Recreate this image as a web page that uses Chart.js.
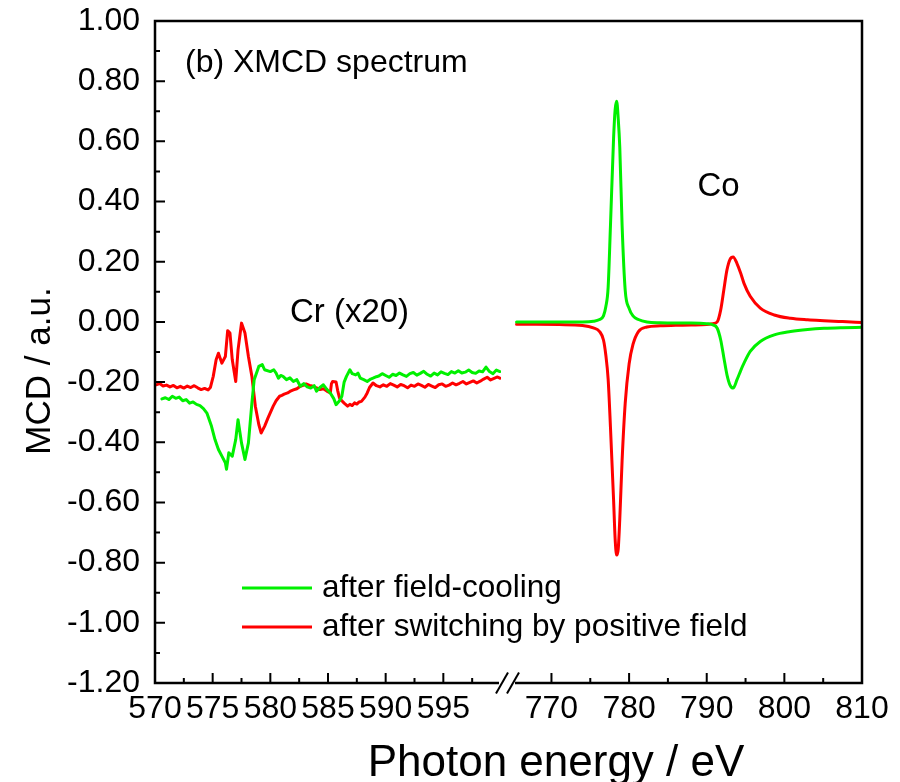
<!DOCTYPE html>
<html>
<head>
<meta charset="utf-8">
<title>XMCD spectrum</title>
<script src="https://cdn.jsdelivr.net/npm/chart.js@4.4.1/dist/chart.umd.min.js"></script>
<style>
  html, body { margin: 0; padding: 0; background: #fff; }
  #chart { display: block; }
</style>
</head>
<body>
<canvas id="chart" width="900" height="782"></canvas>
<script>
// Cr L edge (scaled x20), after field-cooling
const crEnergyFC = [
  570.6, 570.9, 571.2, 571.5, 571.8, 572.1, 572.4, 572.7, 573.0, 573.3, 573.6, 573.9, 574.2, 574.5,
  574.9, 575.2, 575.5, 575.8, 576.1, 576.2, 576.4, 576.7, 577.0, 577.2, 577.5, 577.8, 578.1, 578.4,
  578.6, 579.0, 579.3, 579.5, 580.0,
  580.3, 580.5, 580.7, 580.9, 581.1, 581.4, 581.7, 582.0, 582.3, 582.6, 582.9, 583.2, 583.5, 583.8,
  584.0, 584.3, 584.6, 584.9, 585.2, 585.5, 585.7, 586.0, 586.2, 586.4, 586.6, 586.9, 587.1, 587.4,
  587.6, 587.8, 588.1, 588.4, 588.7, 588.9, 589.2,
  589.4, 589.7, 590.0, 590.3, 590.6, 590.9, 591.2, 591.5, 591.8, 592.1, 592.4, 592.7, 593.0, 593.3,
  593.6, 593.9, 594.2, 594.5, 594.8, 595.1, 595.4, 595.7, 596.0, 596.3, 596.6, 596.9, 597.2, 597.5,
  597.8, 598.1, 598.4, 598.7, 599.0, 599.3, 599.6, 599.9];
const crMcdFC = [
  -0.256, -0.252, -0.258, -0.247, -0.254, -0.250, -0.262, -0.258, -0.270, -0.266, -0.274, -0.278, -0.288, -0.303,
  -0.347, -0.391, -0.424, -0.446, -0.468, -0.490, -0.435, -0.446, -0.391, -0.325, -0.402, -0.457, -0.402, -0.270,
  -0.192, -0.148, -0.142, -0.159, -0.165,
  -0.159, -0.170, -0.187, -0.178, -0.181, -0.192, -0.186, -0.198, -0.192, -0.214, -0.205, -0.216, -0.220, -0.212,
  -0.230, -0.218, -0.209, -0.224, -0.236, -0.255, -0.275, -0.262, -0.247, -0.200, -0.181, -0.159, -0.172, -0.176,
  -0.170, -0.187, -0.192, -0.198, -0.190, -0.187, -0.182,
  -0.180, -0.172, -0.178, -0.184, -0.174, -0.178, -0.170, -0.176, -0.181, -0.172, -0.168, -0.177, -0.171, -0.164,
  -0.174, -0.180, -0.170, -0.176, -0.166, -0.171, -0.175, -0.165, -0.170, -0.162, -0.170, -0.167, -0.160, -0.168,
  -0.171, -0.163, -0.166, -0.150, -0.165, -0.172, -0.160, -0.165];

// Cr L edge (scaled x20), after switching by positive field
const crEnergySW = [
  570.1, 570.4, 570.7, 571.0, 571.3, 571.6, 571.9, 572.2, 572.5, 572.8, 573.1, 573.4, 573.7, 574.0,
  574.3, 574.6, 574.8,
  575.05, 575.3, 575.5, 575.8, 576.1, 576.3, 576.5, 576.7, 577.0, 577.2, 577.5, 577.8, 578.1, 578.4,
  578.7, 579.0, 579.2, 579.5, 579.8,
  580.25, 580.5, 580.8, 581.0, 581.2, 581.5, 581.7, 582.0, 582.3, 582.6, 582.9, 583.1, 583.4, 583.7,
  584.0, 584.3, 584.6, 584.9, 585.2, 585.3, 585.4, 585.7, 585.85, 586.0, 586.2, 586.4, 586.7, 586.9,
  587.1, 587.3, 587.5, 587.7, 587.9, 588.2, 588.4, 588.6,
  588.9, 589.2, 589.5, 589.8, 590.1, 590.4, 590.7, 591.0, 591.3, 591.6, 591.9, 592.2, 592.5, 592.8,
  593.1, 593.4, 593.7, 594.0, 594.3, 594.6, 594.9, 595.2, 595.5, 595.8, 596.1, 596.4, 596.7, 597.0,
  597.3, 597.6, 597.9, 598.2, 598.5, 598.8, 599.1, 599.4, 599.7, 599.9];
const crMcdSW = [
  -0.209, -0.205, -0.213, -0.210, -0.216, -0.211, -0.219, -0.214, -0.220, -0.213, -0.218, -0.212, -0.219, -0.225,
  -0.221, -0.226, -0.218,
  -0.181, -0.126, -0.104, -0.137, -0.115, -0.029, -0.037, -0.126, -0.198, -0.093, -0.004, -0.037, -0.115, -0.181,
  -0.280, -0.341, -0.369, -0.347, -0.319,
  -0.280, -0.262, -0.247, -0.244, -0.240, -0.236, -0.231, -0.226, -0.222, -0.214, -0.210, -0.206, -0.211, -0.214,
  -0.219, -0.225, -0.222, -0.230, -0.236, -0.205, -0.198, -0.200, -0.230, -0.253, -0.262, -0.270, -0.280, -0.274,
  -0.278, -0.269, -0.273, -0.266, -0.264, -0.250, -0.236, -0.218,
  -0.203, -0.212, -0.216, -0.209, -0.214, -0.205, -0.210, -0.216, -0.208, -0.212, -0.219, -0.210, -0.214, -0.206,
  -0.211, -0.217, -0.208, -0.213, -0.218, -0.209, -0.206, -0.214, -0.210, -0.203, -0.209, -0.204, -0.198, -0.206,
  -0.201, -0.196, -0.203, -0.197, -0.190, -0.184, -0.193, -0.188, -0.183, -0.187];

// Co L edge, both measurements on the same energy points
const coEnergy = [765.5, 768, 771, 774, 775.4, 776.2, 776.7, 777.0, 777.3, 777.6, 778.0, 778.2, 778.4, 778.6, 778.8,
  779.1, 779.5, 780.0, 780.5, 781.2, 782.3, 784, 786, 788, 790, 790.8, 791.35, 791.8, 792.2, 792.6,
  793.0, 793.4, 793.9, 794.4, 794.8, 795.6, 796.9, 798.7, 800.8, 803, 805.1, 807.5, 810];
const coMcdFC = [0.000, 0.000, 0.000, 0.000, 0.002, 0.008, 0.020, 0.050, 0.115, 0.320, 0.610, 0.705, 0.733, 0.675, 0.580,
  0.320, 0.105, 0.045, 0.020, 0.008, 0.000, -0.003, -0.004, -0.004, -0.006, -0.010, -0.021, -0.060, -0.118, -0.175,
  -0.210, -0.220, -0.192, -0.160, -0.137, -0.098, -0.065, -0.043, -0.032, -0.025, -0.021, -0.019, -0.018];
const coMcdSW = [-0.008, -0.008, -0.009, -0.012, -0.020, -0.032, -0.060, -0.110, -0.190, -0.350, -0.590, -0.720, -0.775, -0.755, -0.655,
  -0.460, -0.270, -0.140, -0.075, -0.032, -0.017, -0.013, -0.011, -0.010, -0.009, -0.006, 0.000, 0.040, 0.106, 0.172,
  0.208, 0.216, 0.194, 0.160, 0.128, 0.085, 0.046, 0.023, 0.012, 0.007, 0.004, 0.001, -0.002];

// tick labels
const crTickLabels = [570, 575, 580, 585, 590, 595];
const coTickLabels = [770, 780, 790, 800, 810];
const mcdTickLabels = [-1.2, -1.0, -0.8, -0.6, -0.4, -0.2, 0, 0.2, 0.4, 0.6, 0.8, 1.0];

const green = 'rgb(0,240,0)';
const red = 'rgb(255,0,0)';
const fontFamily = '"Liberation Sans", Arial, Helvetica, sans-serif';

function points(xs, ys) {
  return xs.map((x, i) => ({ x: x, y: ys[i] }));
}

function isMcdLabel(v) {
  return mcdTickLabels.some(t => Math.abs(t - v) < 1e-6);
}

// keep the plot box exactly where the layout padding puts it
function noPadding(s) {
  s.paddingTop = 0;
  s.paddingBottom = 0;
  s.paddingLeft = 0;
  s.paddingRight = 0;
}

// Frame, inward ticks, axis break, texts and legend
const decorations = {
  id: 'decorations',
  afterDraw(chart) {
    const ctx = chart.ctx;
    const a = chart.chartArea;
    const xCr = chart.scales.xCr;
    const xCo = chart.scales.xCo;
    const y = chart.scales.y;
    const cut1 = xCr.getPixelForValue(600) + 1;
    const cut2 = cut1 + 11;

    ctx.save();
    ctx.strokeStyle = '#000';
    ctx.lineWidth = 2.5;

    // box around the plot, bottom line broken
    ctx.beginPath();
    ctx.moveTo(cut1 - 3, a.bottom);
    ctx.lineTo(a.left, a.bottom);
    ctx.lineTo(a.left, a.top);
    ctx.lineTo(a.right, a.top);
    ctx.lineTo(a.right, a.bottom);
    ctx.lineTo(cut2 + 2, a.bottom);
    ctx.stroke();

    // the two slashes of the break
    ctx.lineWidth = 2;
    [cut1, cut2].forEach(cx => {
      ctx.beginPath();
      ctx.moveTo(cx - 6, a.bottom + 10.5);
      ctx.lineTo(cx + 6, a.bottom - 10.5);
      ctx.stroke();
    });

    // ticks pointing inward
    ctx.lineWidth = 2;
    ctx.beginPath();
    y.ticks.forEach(t => {
      if (t.value <= -1.2 + 1e-6 || t.value >= 1.0 - 1e-6) return;
      const py = y.getPixelForValue(t.value);
      const len = isMcdLabel(t.value) ? 10 : 5;
      ctx.moveTo(a.left, py);
      ctx.lineTo(a.left + len, py);
    });
    xCr.ticks.forEach(t => {
      if (t.value <= 570 || t.value >= 600) return;
      const px = xCr.getPixelForValue(t.value);
      const len = crTickLabels.includes(t.value) ? 10 : 5;
      ctx.moveTo(px, a.bottom);
      ctx.lineTo(px, a.bottom - len);
    });
    xCo.ticks.forEach(t => {
      if (t.value < 767 || t.value >= 810) return;
      const px = xCo.getPixelForValue(t.value);
      const len = coTickLabels.includes(t.value) ? 10 : 5;
      ctx.moveTo(px, a.bottom);
      ctx.lineTo(px, a.bottom - len);
    });
    ctx.stroke();

    // texts inside the plot
    ctx.fillStyle = '#000';
    ctx.textAlign = 'left';
    ctx.textBaseline = 'alphabetic';
    ctx.font = '32px ' + fontFamily;
    ctx.fillText('(b) XMCD spectrum', xCr.getPixelForValue(572.6), y.getPixelForValue(0.83));
    ctx.font = '33px ' + fontFamily;
    ctx.fillText('Cr (x20)', xCr.getPixelForValue(581.7), y.getPixelForValue(0.0));
    ctx.fillText('Co', xCo.getPixelForValue(788.8), y.getPixelForValue(0.42));

    // legend
    ctx.font = '31.5px ' + fontFamily;
    ctx.textBaseline = 'middle';
    let ly = a.bottom - 95;
    chart.data.datasets.filter(ds => ds.inLegend).forEach(ds => {
      ctx.strokeStyle = ds.borderColor;
      ctx.lineWidth = 3;
      ctx.beginPath();
      ctx.moveTo(a.left + 87, ly);
      ctx.lineTo(a.left + 157, ly);
      ctx.stroke();
      ctx.fillText(ds.label, a.left + 167, ly);
      ly += 39;
    });

    // axis titles
    ctx.font = '44px ' + fontFamily;
    ctx.textAlign = 'center';
    ctx.textBaseline = 'alphabetic';
    ctx.fillText('Photon energy / eV', 556, 776);
    ctx.translate(50, 371);
    ctx.rotate(-Math.PI / 2);
    ctx.font = '35px ' + fontFamily;
    ctx.fillText('MCD / a.u.', 0, 0);
    ctx.restore();
  }
};

const tickFont = { family: fontFamily, size: 32 };

const ctx = document.getElementById('chart').getContext('2d');
const chart = new Chart(ctx, {
  type: 'line',
  data: {
    datasets: [
      { label: 'after field-cooling', inLegend: true, data: points(crEnergyFC, crMcdFC), xAxisID: 'xCr',
        borderColor: green, borderWidth: 3 },
      { label: 'after field-cooling', data: points(coEnergy, coMcdFC), xAxisID: 'xCo',
        borderColor: green, borderWidth: 3, cubicInterpolationMode: 'monotone' },
      { label: 'after switching by positive field', inLegend: true, data: points(crEnergySW, crMcdSW), xAxisID: 'xCr',
        borderColor: red, borderWidth: 3 },
      { label: 'after switching by positive field', data: points(coEnergy, coMcdSW), xAxisID: 'xCo',
        borderColor: red, borderWidth: 3, cubicInterpolationMode: 'monotone' }
    ]
  },
  options: {
    responsive: false,
    animation: false,
    devicePixelRatio: 1,
    layout: { padding: { left: 0, top: 21, right: 38, bottom: 0 } },
    elements: {
      point: { radius: 0 },
      line: { tension: 0, borderJoinStyle: 'round', borderCapStyle: 'round' }
    },
    plugins: {
      legend: { display: false },
      tooltip: { enabled: false }
    },
    scales: {
      xCr: {
        type: 'linear',
        position: 'bottom',
        stack: 'energy',
        stackWeight: 346,
        min: 570,
        max: 600,
        grid: { display: false, drawTicks: false },
        border: { display: false },
        ticks: {
          stepSize: 2.5,
          autoSkip: false,
          maxRotation: 0,
          padding: 7,
          color: '#000',
          font: tickFont,
          callback: v => crTickLabels.includes(v) ? String(v) : ''
        },
        afterFit: s => { s.height = 99; noPadding(s); }
      },
      xCo: {
        type: 'linear',
        position: 'bottom',
        stack: 'energy',
        stackWeight: 361,
        min: 763.5,
        max: 810,
        grid: { display: false, drawTicks: false },
        border: { display: false },
        ticks: {
          stepSize: 5,
          autoSkip: false,
          maxRotation: 0,
          padding: 7,
          color: '#000',
          font: tickFont,
          callback: v => coTickLabels.includes(v) ? String(v) : ''
        },
        afterFit: s => { s.height = 99; noPadding(s); }
      },
      y: {
        type: 'linear',
        position: 'left',
        min: -1.2,
        max: 1.0,
        grid: { display: false, drawTicks: false },
        border: { display: false },
        ticks: {
          stepSize: 0.1,
          autoSkip: false,
          padding: 15,
          color: '#000',
          font: tickFont,
          callback: v => isMcdLabel(v) ? (Math.round(v * 100) / 100).toFixed(2) : ''
        },
        afterFit: s => { s.width = 155; noPadding(s); }
      }
    }
  },
  plugins: [decorations]
});
</script>
</body>
</html>
